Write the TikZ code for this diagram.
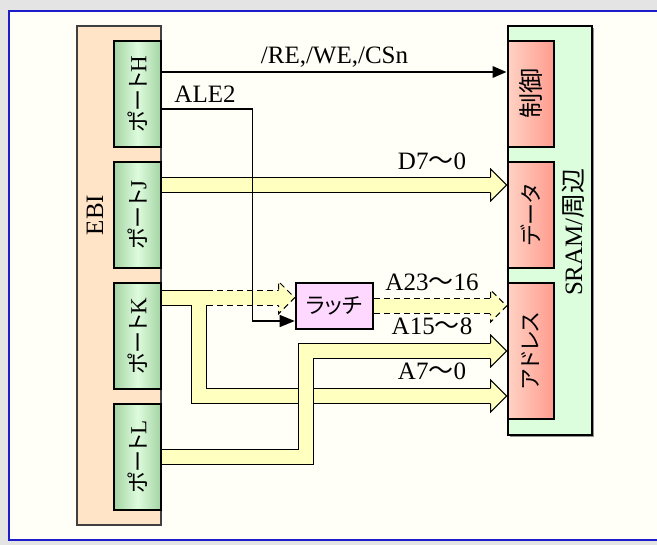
\documentclass[tikz,border=0pt]{standalone}
\usepackage{fontspec}
\setmainfont{Liberation Serif}
\newfontfamily\jp[RawFeature=+palt]{Noto Sans CJK JP}
\newfontfamily\jpw{Noto Sans CJK JP}
\usetikzlibrary{arrows.meta, calc, positioning, shadows}
\definecolor{bgray}{HTML}{E4E4E4}
\definecolor{paper}{HTML}{FFFFF7}
\definecolor{frameblue}{HTML}{1C1CC8}
\definecolor{ebifill}{HTML}{FFE4C8}
\definecolor{sramfill}{HTML}{DCFEDC}
\definecolor{portdk}{HTML}{A4D4A4}
\definecolor{portlt}{HTML}{DDFBDD}
\definecolor{siglt}{HTML}{FFD2C4}
\definecolor{sigdk}{HTML}{FF9C8E}
\definecolor{latchfill}{HTML}{FFD8FF}
\definecolor{busyel}{HTML}{FFFFC0}
\pgfdeclarelayer{back}
\pgfdeclarelayer{busses}
\pgfsetlayers{back,busses,main}
\tikzset{
  >={Triangle[length=14pt, width=11pt]},
  lfont/.style={font=\fontsize{25}{25}\selectfont},
  jfont/.style={font=\fontsize{22}{22}\selectfont},
  % outer blocks
  ebibox/.style={draw=black!75, line width=1.2pt, fill=ebifill, minimum width=84pt, minimum height=499pt},
  srambox/.style={draw=black, line width=1.2pt, fill=sramfill, minimum width=84pt, minimum height=409pt,
    drop shadow={shadow xshift=2pt, shadow yshift=-2pt, fill=black!60, opacity=0.7}},
  % inner blocks
  portbox/.style={draw, line width=2.6pt, minimum width=47pt, minimum height=106pt,
    left color=portdk, right color=portdk, middle color=portlt},
  sigbox/.style={draw, line width=2.6pt, minimum width=46pt, minimum height=106pt,
    left color=siglt, right color=sigdk},
  latchbox/.style={draw, line width=2.6pt, fill=latchfill, minimum width=77pt, minimum height=46pt, jfont},
  sidelbl/.style={rotate=90, lfont},
  boxlbl/.style={rotate=90, jfont},
  buslbl/.style={lfont, anchor=base},
  % signals and busses
  ctl/.style={line width=2.8pt},
  ale/.style={line width=1.2pt, >={Triangle[length=15pt, width=12pt]}},
  busedge/.style={line width=16pt, black, line cap=butt, line join=miter},
  busbody/.style={line width=14pt, busyel, line cap=butt, line join=miter},
  busdash/.style={dash pattern=on 6pt off 4pt},
  bushead/.pic={
    \fill[busyel] (0,0) -- (-16,-16) -- (-16,16) -- cycle;
    \draw[line width=1pt, line join=miter] (-16,-8) -- (-16,-16) -- (0,0) -- (-16,16) -- (-16,8);
  },
}

\begin{document}
\begin{tikzpicture}[x=1pt, y=-1pt]
  \useasboundingbox (0,0) rectangle (657,545);
  \begin{pgfonlayer}{back}
    \fill[bgray] (0,0) rectangle (657,545);
    \draw[frameblue, line width=2pt, fill=paper] (9,11) rectangle (680,540);
    \node[ebibox] (ebi) at (119,275.5) {};
    \node[srambox] (sram) at (550,230.5) {};
  \end{pgfonlayer}
  \node[sidelbl] (ebit) at (95,215) {EBI};
  \node[sidelbl] (sramt) at (573,232) {SRAM/{\jp 周辺}};

  % ports on the EBI side
  \foreach \p/\y in {H/94, J/215, K/336, L/457} {
    \node[portbox] (p\p) at (137.5,\y) {};
    \node[boxlbl] (p\p t) at (p\p) {{\jp ポート}\fontsize{23}{23}\selectfont\p};
  }

  % SRAM side
  \node[sigbox] (ctrl) at (531,94) {};
  \node[boxlbl] (ctrlt) at (ctrl) {\jpw\fontsize{25}{25}\selectfont 制御};
  \node[sigbox] (data) at (531,215) {};
  \node[boxlbl] (datat) at (data) {\jp データ};
  \node[sigbox, minimum height=136pt] (addr) at (531,351) {};
  \node[boxlbl] (addrt) at (addr) {\jp アドレス};

  \node[latchbox] (latch) at (334.5,306) {\jp ラッチ};

  \coordinate (kout) at ($(pK.north east)+(0,16)$);
  \coordinate (kin) at (latch.west |- kout);
  \coordinate (dend) at ($(data.west)+(0,-30)$);
  \coordinate (a7end) at ($(addr.west)+(0,45)$);
  \coordinate (aout) at (addr.west |- latch.east);

  \begin{pgfonlayer}{busses}
    % D7-0
    \draw[busedge, shorten >=15pt] ($(pJ.east)+(0,-30)$) -- (dend);
    \draw[busbody, shorten >=15pt] ($(pJ.east)+(0,-30)$) -- (dend);
    \pic at (dend) {bushead};
    % A7-0
    \draw[busedge, shorten >=15pt] (kout) -- ++(37,0) |- (a7end);
    \draw[busbody, shorten >=15pt] (kout) -- ++(37,0) |- (a7end);
    \pic at (a7end) {bushead};
    % A23-16 into the latch
    \draw[busedge, busdash, shorten >=15pt] ($(kout)+(45,0)$) -- (kin);
    \draw[busbody, shorten >=15pt] ($(kout)+(37,0)$) -- (kin);
    \pic[busdash] at (kin) {bushead};
    % A23-16 out of the latch
    \draw[busedge, busdash, shorten >=15pt] (latch.east) -- (aout);
    \draw[busbody, shorten >=15pt] (latch.east) -- (aout);
    \pic[busdash] at (aout) {bushead};
    % A15-8
    \draw[busedge, shorten >=15pt] (pL.east) -- ++(143.5,0) |- (addr.west);
    \draw[busbody, shorten >=15pt] (pL.east) -- ++(143.5,0) |- (addr.west);
    \pic at (addr.west) {bushead};
  \end{pgfonlayer}

  \draw[ctl, ->] ($(pH.east)+(0,-22)$) -- node[buslbl, midway, yshift=8pt] (lctl) {/RE,/WE,/CSn} ($(ctrl.west)+(0,-22)$);
  \draw[ale, ->] ($(pH.east)+(0,15)$) -- ++(90,0) |- ($(latch.west)+(0,15)$);

  \node[buslbl] (lale) at (205,103) {ALE2};
  \node[buslbl] (ld) at (432,170) {D7{\jpw 〜}0};
  \node[buslbl] (lhi) at (432,291) {A23{\jpw 〜}16};
  \node[buslbl] (lmid) at (432,335) {A15{\jpw 〜}8};
  \node[buslbl] (llo) at (432,380) {A7{\jpw 〜}0};
\end{tikzpicture}
\end{document}
